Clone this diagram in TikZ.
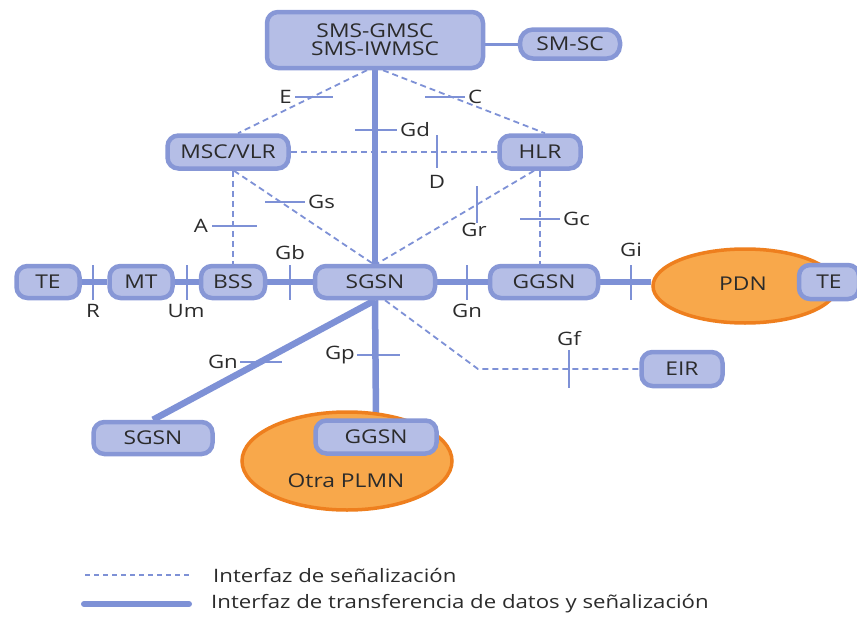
\documentclass[tikz,border=0pt]{standalone}
\usepackage{fontspec}
\setmainfont{Open Sans}[FakeStretch=1.2]
\usetikzlibrary{shapes.geometric,backgrounds,calc}

\definecolor{boxfill}{HTML}{B5BEE6}
\definecolor{boxline}{HTML}{8797D6}
\definecolor{linkcol}{HTML}{7E91D6}
\definecolor{netfill}{HTML}{F8A84B}
\definecolor{netline}{HTML}{EE7F1E}
\definecolor{txt}{HTML}{2B2B2B}

\tikzset{
  x=1pt, y=-1pt,
  elem/.style={draw=boxline, fill=boxfill, line width=4.5pt, rounded corners=11pt,
    text=txt, font=\fontsize{19}{21}\selectfont, inner sep=0pt, align=center},
  net/.style={ellipse, draw=netline, fill=netfill, line width=3.5pt, inner sep=0pt},
  datalink/.style={draw=linkcol, line width=6.5pt},
  siglink/.style={draw=linkcol, line width=1.8pt, dash pattern=on 6pt off 4pt},
  tick/.style={draw=linkcol, line width=2pt},
  lbl/.style={text=txt, font=\fontsize{18.5}{20}\selectfont, inner sep=0pt},
}

\begin{document}
\begin{tikzpicture}
\useasboundingbox (0,0) rectangle (857,616);

% core elements
\node[elem, minimum width=216, minimum height=56] (sms) at (375,40) {SMS-GMSC\\[-3pt]SMS-IWMSC};
\node[elem, minimum width=100, minimum height=29, rounded corners=13pt] (smsc) at (570,44) {SM-SC};
\node[elem, minimum width=121, minimum height=33] (msc) at (228,152) {MSC/VLR};
\node[elem, minimum width=81, minimum height=33] (hlr) at (540,152) {HLR};

% access / core row
\node[elem, minimum width=63, minimum height=32] (te1) at (48,282) {TE};
\node[elem, minimum width=63, minimum height=32] (mt) at (141,282) {MT};
\node[elem, minimum width=64, minimum height=32] (bss) at (233,282) {BSS};
\node[elem, minimum width=120, minimum height=32] (sgsn) at (375,282) {SGSN};
\node[elem, minimum width=108, minimum height=32] (ggsn) at (544,282) {GGSN};
\node[net, minimum width=184, minimum height=74] (pdn) at (745,286) {};
\node[text=txt, font=\fontsize{19}{21}\selectfont] (pdnlbl) at (743,284) {PDN};
\node[elem, minimum width=60, minimum height=34] (te2) at (829,282) {TE};

\node[elem, minimum width=81, minimum height=34] (eir) at (682,369) {EIR};
\node[elem, minimum width=119, minimum height=32] (sgsn2) at (153,438) {SGSN};

% other PLMN
\node[net, minimum width=210, minimum height=98] (plmn) at (347,461) {};
\node[elem, minimum width=121, minimum height=33] (ggsn2) at (376,437) {GGSN};
\node[text=txt, font=\fontsize{19}{21}\selectfont] (plmnlbl) at (346,481) {Otra PLMN};

\coordinate (gfbend) at (478,369);

\begin{pgfonlayer}{background}
  % data and signalling interfaces
  \draw[datalink] (sms.south) -- (sgsn.north);
  \draw[datalink] (te1.east) -- (mt.west);
  \draw[datalink] (mt.east) -- (bss.west);
  \draw[datalink] (bss.east) -- (sgsn.west);
  \draw[datalink] (sgsn.east) -- (ggsn.west);
  \draw[datalink] (ggsn.east) -- (ggsn.east -| pdn.west);
  \draw[datalink] (sgsn.south) -- (sgsn2.north);
  \draw[datalink] (sgsn.south) -- (ggsn2.north);
  \draw[draw=linkcol, line width=3pt] (sms.east |- smsc.west) -- (smsc.west);

  % signalling-only interfaces
  \draw[siglink] ($(sms.south)+(-8,0)$) -- ($(msc.north)+(10,0)$);
  \draw[siglink] ($(sms.south)+(8,0)$) -- ($(hlr.north)+(5,0)$);
  \draw[siglink] (msc.east) -- (hlr.west);
  \draw[siglink] ($(msc.south)+(6,0)$) -- ($(sgsn.north)+(-2,0)$);
  \draw[siglink] ($(hlr.south)+(-6,0)$) -- ($(sgsn.north)+(2,0)$);
  \draw[siglink] (bss.north |- msc.south) -- (bss.north);
  \draw[siglink] (hlr.south) -- (hlr.south |- ggsn.north);
  \draw[siglink] ($(sgsn.south)+(10,0)$) -- (gfbend) -- (eir.west);
\end{pgfonlayer}

% interface reference points
\draw[tick] (355,130) -- (397,130);
\node[lbl, anchor=west] (lgd) at (400,130) {Gd};
\draw[tick] (295,97) -- (333,97);
\node[lbl, anchor=east] (le) at (292,97) {E};
\draw[tick] (425,97) -- (465,97);
\node[lbl, anchor=west] (lc) at (468,97) {C};
\draw[tick] (437,135) -- (437,168);
\node[lbl] (ld) at (437,182) {D};
\draw[tick] (265,202) -- (305,202);
\node[lbl, anchor=west] (lgs) at (308,202) {Gs};
\draw[tick] (477,186) -- (477,223);
\node[lbl] (lgr) at (474,230) {Gr};
\draw[tick] (212,226) -- (257,226);
\node[lbl, anchor=east] (la) at (208,226) {A};
\draw[tick] (520,219) -- (560,219);
\node[lbl, anchor=west] (lgc) at (563,219) {Gc};

\draw[tick] (93,265) -- (93,300);
\node[lbl] (lr) at (93,311) {R};
\draw[tick] (187,265) -- (187,300);
\node[lbl] (lum) at (186,311) {Um};
\draw[tick] (290,265) -- (290,300);
\node[lbl] (lgb) at (290,253) {Gb};
\draw[tick] (467,265) -- (467,300);
\node[lbl] (lgn) at (467,311) {Gn};
\draw[tick] (631,265) -- (631,300);
\node[lbl] (lgi) at (631,250) {Gi};
\draw[tick] (569,350) -- (569,388);
\node[lbl] (lgf) at (569,339) {Gf};
\draw[tick] (240,362) -- (282,362);
\node[lbl, anchor=east] (lgn2) at (238,362) {Gn};
\draw[tick] (357,355) -- (400,355);
\node[lbl, anchor=east] (lgp) at (355,355) {Gp};

% legend
\coordinate (sigA) at (85,575);
\coordinate (sigB) at (190,575);
\coordinate (datA) at (84,604);
\coordinate (datB) at (189,604);
\draw[draw=linkcol, line width=1.5pt, dash pattern=on 5pt off 4pt] (sigA) -- (sigB);
\draw[draw=linkcol, line width=6pt, line cap=round] (datA) -- (datB);
\node[lbl, anchor=west] (legsig) at (213,575) {Interfaz de señalización};
\node[lbl, anchor=west] (legdat) at (211,604) {Interfaz de transferencia de datos y señalización};
\end{tikzpicture}
\end{document}
